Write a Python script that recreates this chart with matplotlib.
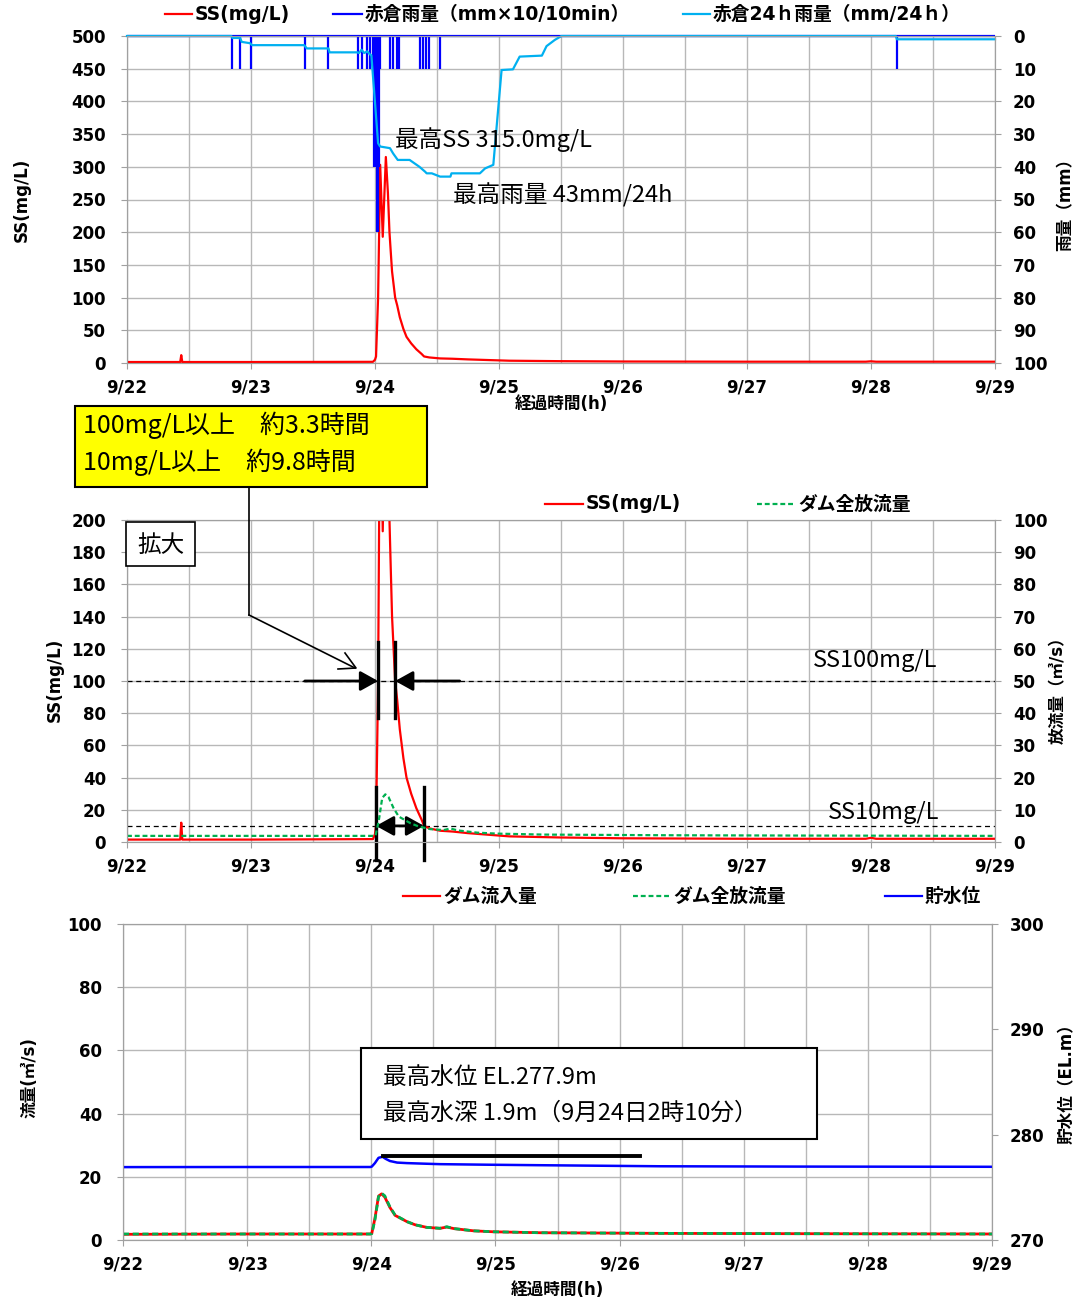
import matplotlib
matplotlib.use("Agg")
import matplotlib.pyplot as plt
from matplotlib.lines import Line2D
from matplotlib.patches import Rectangle

plt.rcParams['font.family'] = ['DejaVu Sans', 'Noto Sans CJK JP']
plt.rcParams['axes.unicode_minus'] = False

# ---------------- data (time = hours since 9/22 0:00) ----------------
day_labels = ['9/22', '9/23', '9/24', '9/25', '9/26', '9/27', '9/28', '9/29']

# suspended solids (mg/L)
ss_t = [0, 10.3, 10.5, 10.7, 24, 47.6, 48.0, 48.2, 48.6, 48.8, 49.0, 49.5, 50.1, 50.5,
        50.8, 51.3, 51.9, 52.3, 52.8, 53.5, 54.1, 55.0, 56.0, 57.0, 57.5, 58.5, 60.6,
        63, 66, 70, 74, 84, 96, 120, 143, 144, 145, 168]
ss_v = [1.5, 1.5, 12, 1.5, 1.5, 1.8, 5, 10, 100, 200, 303, 193, 315, 260,
        200, 140, 100, 88, 70, 52, 40, 30, 21, 14, 10, 8.5, 7,
        6.5, 5.5, 4.5, 3.5, 2.8, 2.3, 2.0, 2.0, 2.6, 2.0, 2.0]

# Akakura 10-minute rainfall (mm x 10 / 10 min)
rain10_t = [20.3, 21.9, 24.0, 34.4, 38.9, 44.8, 45.4, 46.4, 47.0,
            47.6, 47.9, 48.1, 48.3, 48.5, 48.7, 48.9,
            50.9, 51.5, 52.2, 52.7, 56.7, 57.3, 57.9, 58.5, 60.6, 149.0]
rain10_v = [10, 10, 10, 10, 10, 10, 10, 10, 10,
            10, 40, 40, 60, 60, 40, 10,
            10, 10, 10, 10, 10, 10, 10, 10, 10, 10]

# Akakura 24-hour rainfall (mm / 24 h)
rain24_t = [0, 20.2, 20.4, 21.9, 22.2, 23.8, 24.2, 34.3, 34.8, 39.0, 39.2, 44.6, 44.9,
            45.4, 45.9, 46.5, 47.0, 47.3, 48.6, 49.0, 50.9, 51.5, 52.4, 54.7, 56.6,
            57.7, 58.0, 59.0, 60.6, 62.6, 62.8, 68.3, 69.3, 70.9, 72.5, 74.7, 76.0,
            80.3, 81.2, 82.8, 84.1, 148.8, 149.0, 168]
rain24_v = [0, 0, 0.6, 0.6, 1.8, 2.2, 2.8, 2.8, 3.8, 3.8, 5.0, 5.0, 5.2,
            4.2, 5.2, 4.7, 5.6, 5.9, 32.8, 33.8, 34.3, 35.9, 37.9, 37.9, 40,
            41.5, 42, 42, 43, 43, 42, 42, 40.5, 39.4, 10.4, 10.2, 6.3,
            6, 3.1, 1.2, 0, 0, 1, 1]

# dam inflow / total outflow (m3/s)
flow_t = [0, 24, 47.8, 48.1, 48.7, 49.4, 50.0, 50.6, 51.6, 52.6, 54.9, 56.5, 58.7,
          61.3, 62.6, 64.0, 67.8, 71.6, 80.7, 103.9, 130, 168]
inflow_v = [1.8, 1.9, 1.9, 2.1, 6.8, 13.9, 14.6, 13.6, 10.3, 7.8, 5.8, 4.8, 4.0,
            3.7, 4.1, 3.6, 2.9, 2.6, 2.3, 2.1, 2.0, 1.9]
outflow_v = [1.9, 1.9, 1.9, 2.0, 6.3, 13.7, 14.8, 14.0, 10.5, 7.9, 5.8, 4.8, 4.0,
             3.7, 4.2, 3.6, 2.9, 2.6, 2.3, 2.1, 2.0, 1.9]

# reservoir water level (EL. m)
level_t = [0, 24, 47.8, 48.1, 48.7, 49.4, 50.17, 50.8, 51.6, 53.0, 54.9, 58.0,
           61.3, 70, 80.7, 103.9, 130, 168]
level_v = [276.92, 276.93, 276.93, 276.97, 277.3, 277.8, 277.9, 277.7, 277.5, 277.35,
           277.3, 277.25, 277.2, 277.15, 277.1, 277.0, 276.97, 276.95]

# periods above the SS thresholds (hours)
ss100_window = (48.6, 51.8)
ss10_window = (48.2, 57.5)
level_line_end = 100.0

# ---------------- styling ----------------
RED = '#ff0000'
BLUE = '#0000ff'
SKY = '#00b0f0'
GREEN = '#00b050'
GRID = '#b8b8b8'
SPINE = '#a0a0a0'
JP = ['Noto Sans CJK JP', 'DejaVu Sans']

W, H = 1079, 1303
fig = plt.figure(figsize=(W / 100, H / 100), dpi=100)


def fx(px):
    return px / W


def fy(py):
    return 1 - py / H


def add_axes(left, top, right, bottom):
    return fig.add_axes([fx(left), fy(bottom), (right - left) / W, (bottom - top) / H])


hours_major = [24 * i for i in range(len(day_labels))]
hours_minor = [12 + 24 * i for i in range(len(day_labels) - 1)]


def setup(ax, axr, lticks, rticks, rlim):
    ax.set_xlim(hours_major[0], hours_major[-1])
    ax.set_xticks(hours_major, day_labels, fontsize=12, fontweight='bold')
    ax.set_xticks(hours_minor, minor=True)
    ax.set_ylim(lticks[0], lticks[-1])
    ax.set_yticks(lticks, [str(v) for v in lticks], fontsize=12, fontweight='bold')
    ax.grid(True, which='both', axis='x', color=GRID, lw=1.0)
    ax.grid(True, which='major', axis='y', color=GRID, lw=1.0)
    ax.set_axisbelow(True)
    ax.tick_params(axis='x', which='major', length=4, color=SPINE, pad=7)
    ax.tick_params(axis='x', which='minor', length=0)
    ax.tick_params(axis='y', length=4, color=SPINE, pad=11)
    for s in ax.spines.values():
        s.set_color(SPINE)
    axr.set_ylim(*rlim)
    axr.set_yticks(rticks, [str(v) for v in rticks], fontsize=12, fontweight='bold')
    axr.tick_params(axis='y', length=4, color=SPINE, pad=9)
    for s in axr.spines.values():
        s.set_color(SPINE)


def legend_entry(x0, x1, y, text, **kw):
    fig.add_artist(Line2D([fx(x0), fx(x1)], [fy(y), fy(y)], transform=fig.transFigure, **kw))
    fig.text(fx(x1 + 3), fy(y), text, ha='left', va='center', fontsize=13.5,
             fontweight='bold')


# ---------------- top panel: SS and rainfall ----------------
ax1 = add_axes(127, 36, 995, 363)
ax1r = ax1.twinx()
setup(ax1, ax1r, list(range(0, 501, 50)), list(range(0, 101, 10)), (100, 0))

ax1.plot(ss_t, ss_v, color=RED, lw=1.6, zorder=3)
ax1r.hlines(0, hours_major[0], hours_major[-1], color=BLUE, lw=1.6, clip_on=False)
ax1r.vlines(rain10_t, 0, rain10_v, color=BLUE, lw=1.6, clip_on=False)
ax1r.plot(rain24_t, rain24_v, color=SKY, lw=1.6, clip_on=False)

fig.text(fx(395), fy(140), '最高SS 315.0mg/L', family=JP, fontsize=17, ha='left', va='center')
fig.text(fx(453), fy(195), '最高雨量 43mm/24h', family=JP, fontsize=17, ha='left', va='center')

fig.text(fx(22), fy(200), 'SS(mg/L)', rotation=90, ha='center', va='center',
         fontsize=12, fontweight='bold')
fig.text(fx(1066), fy(200), '雨量（mm）', rotation=90, ha='center', va='center',
         fontsize=12, fontweight='bold')
fig.text(fx(561), fy(404), '経過時間(h)', ha='center', va='center', fontsize=12,
         fontweight='bold')

legend_entry(165, 192, 14, 'SS(mg/L)', color=RED, lw=1.6)
legend_entry(333, 362, 14, '赤倉雨量（mm×10/10min）', color=BLUE, lw=1.6)
legend_entry(683, 710, 14, '赤倉24ｈ雨量（mm/24ｈ）', color=SKY, lw=1.6)

# ---------------- middle panel: SS close-up ----------------
ax2 = add_axes(127, 520, 995, 842)
ax2r = ax2.twinx()
setup(ax2, ax2r, list(range(0, 201, 20)), list(range(0, 101, 10)), (0, 100))

ax2.axhline(100, color='black', lw=0.9, ls=(0, (4, 3)), zorder=2)
ax2.axhline(10, color='black', lw=0.9, ls=(0, (4, 3)), zorder=2)
ax2.plot(ss_t, ss_v, color=RED, lw=1.6, zorder=3)
ax2r.plot(flow_t, outflow_v, color=GREEN, lw=1.6, ls=(0, (2.2, 1.3)))

# threshold markers
for t in ss100_window:
    ax2.plot([t, t], [77, 124], color='black', lw=2.4, clip_on=False, zorder=6)
for t in ss10_window:
    ax2.plot([t, t], [-11, 34], color='black', lw=2.4, clip_on=False, zorder=6)
head = '-|>,head_length=0.45,head_width=0.25'
ax2.annotate('', xy=(ss100_window[0], 100), xytext=(ss100_window[0] - 14.2, 100),
             arrowprops=dict(arrowstyle=head, color='black', lw=2.0, mutation_scale=24,
                             shrinkA=0, shrinkB=0), zorder=6)
ax2.annotate('', xy=(ss100_window[1] + 0.1, 100), xytext=(ss100_window[1] + 12.6, 100),
             arrowprops=dict(arrowstyle=head, color='black', lw=2.0, mutation_scale=24,
                             shrinkA=0, shrinkB=0), zorder=6)
ax2.annotate('', xy=(ss10_window[0], 10), xytext=(ss10_window[1], 10),
             arrowprops=dict(arrowstyle='<|-|>,head_length=0.45,head_width=0.25',
                             color='black', lw=2.0, mutation_scale=24,
                             shrinkA=0, shrinkB=0), zorder=6)

fig.text(fx(813), fy(660), 'SS100mg/L', family=JP, fontsize=17, ha='left', va='center')
fig.text(fx(828), fy(812), 'SS10mg/L', family=JP, fontsize=17, ha='left', va='center')

fig.add_artist(Rectangle((fx(126), fy(566)), (195 - 126) / W, (566 - 522) / H,
                         transform=fig.transFigure, facecolor='white', edgecolor='black',
                         lw=1.2, zorder=8))
fig.text(fx(160.5), fy(545), '拡大', family=JP, fontsize=17, ha='center', va='center',
         zorder=9)

fig.add_artist(Rectangle((fx(75), fy(487)), (427 - 75) / W, (487 - 406) / H,
                         transform=fig.transFigure, facecolor='#ffff00', edgecolor='black',
                         lw=1.5, zorder=8))
fig.text(fx(83), fy(425), '100mg/L以上\u3000約3.3時間', family=JP, fontsize=18,
         ha='left', va='center', zorder=9)
fig.text(fx(83), fy(462), '10mg/L以上\u3000約9.8時間', family=JP, fontsize=18,
         ha='left', va='center', zorder=9)
fig.add_artist(Line2D([fx(249), fx(249)], [fy(487), fy(615)], transform=fig.transFigure,
                      color='black', lw=1.2, zorder=9))
fig.add_artist(Line2D([fx(249), fx(355)], [fy(615), fy(668)], transform=fig.transFigure,
                      color='black', lw=1.2, zorder=9))
fig.add_artist(Line2D([fx(338), fx(356), fx(345)], [fy(669), fy(668), fy(653)],
                      transform=fig.transFigure, color='black', lw=1.2, zorder=9))

fig.text(fx(55), fy(680), 'SS(mg/L)', rotation=90, ha='center', va='center',
         fontsize=12, fontweight='bold')
fig.text(fx(1058), fy(686), '放流量（㎥/s）', rotation=90, ha='center', va='center',
         fontsize=12, fontweight='bold')

legend_entry(545, 583, 504, 'SS(mg/L)', color=RED, lw=1.6)
legend_entry(757, 795, 504, 'ダム全放流量', color=GREEN, lw=1.6, ls=(0, (2.2, 1.3)))

# ---------------- bottom panel: flows and water level ----------------
ax3 = add_axes(123, 924, 992, 1240)
ax3r = ax3.twinx()
setup(ax3, ax3r, list(range(0, 101, 20)), [270, 280, 290, 300], (270, 300))

ax3.plot(flow_t, inflow_v, color=RED, lw=2.0, zorder=3)
ax3.plot(flow_t, outflow_v, color=GREEN, lw=2.0, ls=(0, (2.2, 1.3)), zorder=4)
ax3r.plot(level_t, level_v, color=BLUE, lw=1.8)

peak = max(level_v)
t_peak = level_t[level_v.index(peak)]
ax3r.plot([t_peak, level_line_end], [peak + 0.1, peak + 0.1], color='black', lw=2.8)

fig.add_artist(Rectangle((fx(361), fy(1139)), (817 - 361) / W, (1139 - 1048) / H,
                         transform=fig.transFigure, facecolor='white', edgecolor='black',
                         lw=1.5, zorder=8))
fig.text(fx(383), fy(1077), '最高水位 EL.277.9m', family=JP, fontsize=17,
         ha='left', va='center', zorder=9)
fig.text(fx(383), fy(1113), '最高水深 1.9m（9月24日2時10分）', family=JP, fontsize=17,
         ha='left', va='center', zorder=9)

fig.text(fx(30), fy(1078), '流量(㎥/s)', rotation=90, ha='center', va='center',
         fontsize=12, fontweight='bold')
fig.text(fx(1067), fy(1080), '貯水位（EL.m）', rotation=90, ha='center', va='center',
         fontsize=12, fontweight='bold')
fig.text(fx(557), fy(1290), '経過時間(h)', ha='center', va='center', fontsize=12,
         fontweight='bold')

legend_entry(403, 440, 896, 'ダム流入量', color=RED, lw=1.6)
legend_entry(633, 670, 896, 'ダム全放流量', color=GREEN, lw=1.6, ls=(0, (2.2, 1.3)))
legend_entry(885, 922, 896, '貯水位', color=BLUE, lw=1.6)

fig.savefig('out.png', dpi=100)
